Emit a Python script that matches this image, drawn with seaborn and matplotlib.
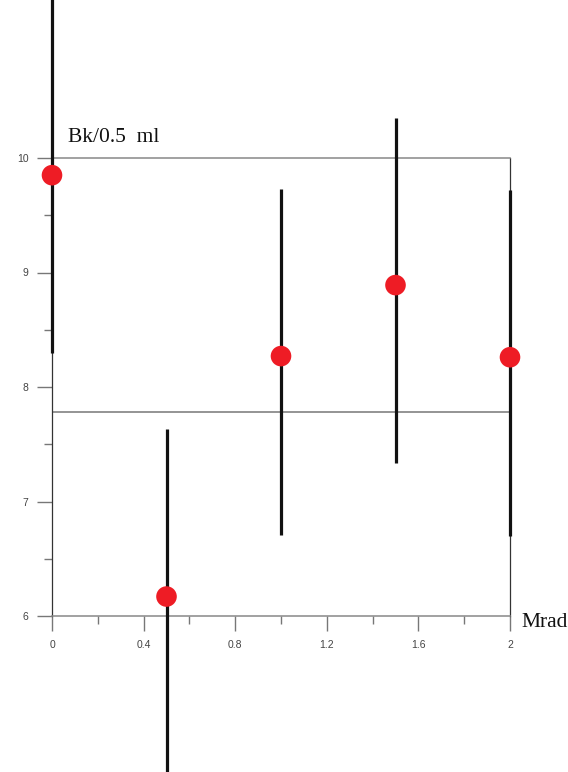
import numpy as np
import matplotlib
matplotlib.use("Agg")
import matplotlib.pyplot as plt
import seaborn as sns
from matplotlib.ticker import MultipleLocator

# dose (Mrad) and measured values
dose = [0, 0.5, 1.0, 1.5, 2.0]
bk = [9.85, 6.17, 8.27, 8.89, 8.26]
err_low = [1.55, 1.55, 1.56, 1.55, 1.56]
err_high = [1.55, 1.46, 1.46, 1.46, 1.46]
mean_level = 7.78

x_ticks = [0, 0.4, 0.8, 1.2, 1.6, 2]
x_tick_labels = ["0", "0.4", "0.8", "1.2", "1.6", "2"]
y_ticks = [6, 7, 8, 9, 10]

sns.set_style("ticks")
plt.rcParams['font.family'] = ['Liberation Sans', 'DejaVu Sans']

fig = plt.figure(figsize=(5.68, 7.72), dpi=100)
ax = fig.add_axes([52 / 568, 1 - 616 / 772, 458 / 568, 458 / 772])

# error bars (run past the frame, like the original)
ax.errorbar(dose, bk, yerr=[err_low, err_high], fmt='none', ecolor='#111111',
            elinewidth=2.3, capsize=0, clip_on=False, zorder=3)

sns.scatterplot(x=dose, y=bk, ax=ax, color='#ee1c25', s=220, edgecolor='none',
                zorder=4, clip_on=False)

ax.axhline(mean_level, color='#777777', lw=1.1, zorder=2)

ax.set_xlim(0, 2)
ax.set_ylim(6, 10)
ax.set_xticks(x_ticks)
ax.set_xticklabels(x_tick_labels)
ax.set_yticks(y_ticks)
ax.xaxis.set_minor_locator(MultipleLocator(0.2))
ax.yaxis.set_minor_locator(MultipleLocator(0.5))

ax.tick_params(axis='both', which='major', length=11, width=1, color='#777777',
               labelsize=7.5, labelcolor='#444444', pad=6)
ax.tick_params(axis='both', which='minor', length=6, width=1, color='#777777')

for side in ['top', 'bottom']:
    ax.spines[side].set_color('#888888')
    ax.spines[side].set_linewidth(1.1)
for side in ['left', 'right']:
    ax.spines[side].set_color('#333333')
    ax.spines[side].set_linewidth(0.9)

ax.text(0.07, 10.14, "Bk/0.5  ml", family=['Liberation Serif', 'DejaVu Serif'],
        fontsize=15.5, color='#111111', ha='left', va='baseline')
ax.text(2.048, 5.9, "Mrad", family=['Liberation Serif', 'DejaVu Serif'],
        fontsize=15.5, color='#111111', ha='left', va='baseline', clip_on=False)

ax.set_xlabel("")
ax.set_ylabel("")
ax.grid(False)

fig.savefig("out.png", dpi=100)
